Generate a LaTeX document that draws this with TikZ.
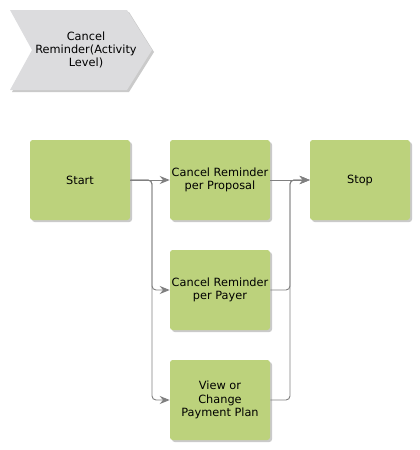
\documentclass[tikz,border=0pt]{standalone}
\usepackage{fontspec}
\setmainfont{DejaVu Sans}
\usetikzlibrary{shadows,arrows.meta}
\definecolor{actgreen}{RGB}{188,210,124}
\definecolor{chevgray}{RGB}{220,220,222}
\definecolor{linegray}{RGB}{128,128,128}
\begin{document}
\begin{tikzpicture}[x=0.75pt, y=-0.75pt, font=\fontsize{8.5}{10}\selectfont, line join=round, >={Stealth[length=7.5pt,width=6pt]},
	shade/.style={drop shadow={shadow xshift=1.5pt, shadow yshift=-1.5pt, fill=black!35, opacity=0.6}},
	act/.style={fill=actgreen, rounded corners=2pt, minimum width=75pt, minimum height=60pt, align=center, inner sep=1pt, shade},
	flow/.style={draw=linegray, line width=0.7pt, ->, rounded corners=3pt}]
	\useasboundingbox (0,0) rectangle (420,450);
	% process header
	\fill[chevgray, shade] (10,10)--(127,10)--(152,50)--(127,90)--(10,90)--(32,50)--cycle;
	\node[align=center] (title) at (86,50) {Cancel\\Reminder(Activity\\Level)};
	% activities
	\node[act] (start) at (80,180) {Start};
	\node[act] (prop) at (220,180) {Cancel Reminder\\per Proposal};
	\node[act] (stop) at (360,180) {Stop};
	\node[act] (payer) at (220,290) {Cancel Reminder\\per Payer};
	\node[act] (plan) at (220,400) {View or\\Change\\Payment Plan};
	\coordinate (split) at (152,180);
	\coordinate (merge) at (290,180);
	% connectors
	\draw[flow] (start) -- (prop);
	\draw[flow] (start.east) -- (split) |- (payer.west);
	\draw[flow] (start.east) -- (split) |- (plan.west);
	\draw[flow] (prop) -- (stop);
	\draw[flow] (payer.east) -| (merge) -- (stop.west);
	\draw[flow] (plan.east) -| (merge) -- (stop.west);
\end{tikzpicture}
\end{document}
